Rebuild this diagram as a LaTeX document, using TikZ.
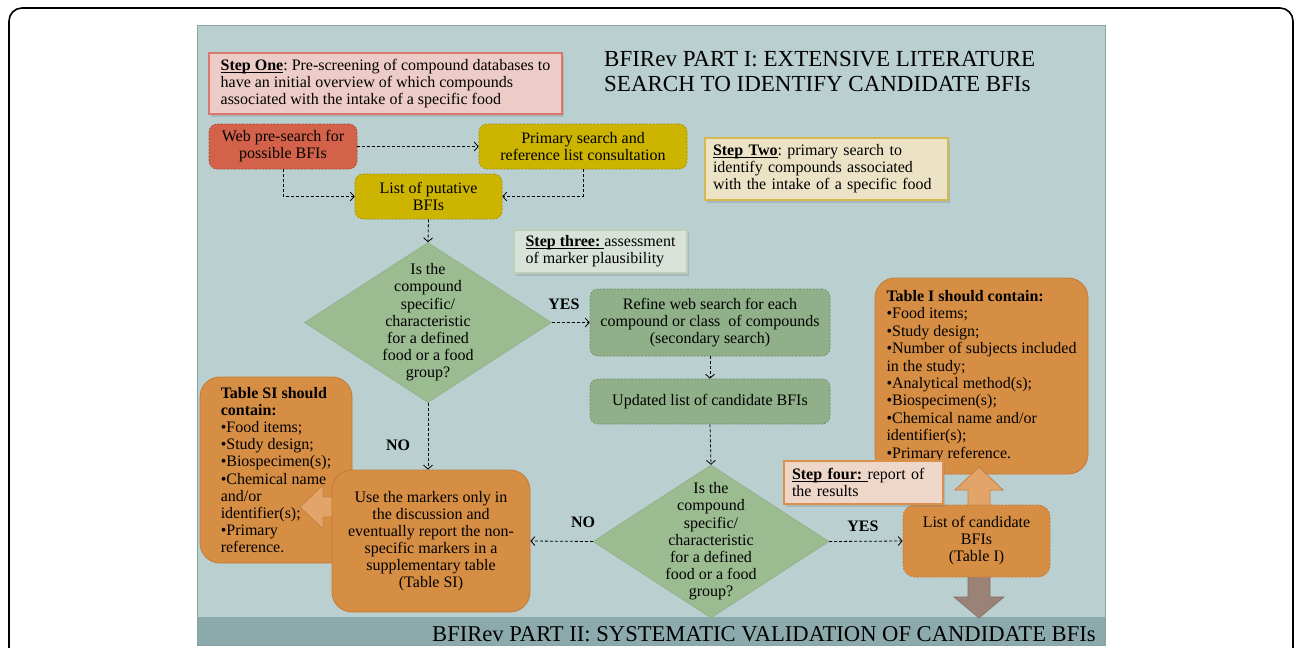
\documentclass[tikz,border=0pt]{standalone}
\usepackage{fontspec}
\setmainfont{Liberation Serif}
\usepackage{xcolor}
\usepackage{tikz}
\usetikzlibrary{calc, shapes.geometric, arrows.meta, shadows}
\frenchspacing
\newcommand{\stepul}[1]{\setbox0=\hbox{#1}\leavevmode\rlap{\vrule width\wd0 height -1.4pt depth 2.4pt}\box0}

\definecolor{panelbg}{RGB}{186,207,207}
\definecolor{panelline}{RGB}{135,165,165}
\definecolor{bannerbg}{RGB}{140,170,172}
\definecolor{onefill}{RGB}{237,203,199}
\definecolor{oneline}{RGB}{217,120,108}
\definecolor{webfill}{RGB}{212,98,74}
\definecolor{webline}{RGB}{165,72,52}
\definecolor{olivefill}{RGB}{204,180,0}
\definecolor{oliveline}{RGB}{160,140,0}
\definecolor{twofill}{RGB}{236,227,198}
\definecolor{twoline}{RGB}{212,185,80}
\definecolor{threefill}{RGB}{216,226,216}
\definecolor{threeline}{RGB}{188,206,188}
\definecolor{diafill}{RGB}{155,187,145}
\definecolor{greenfill}{RGB}{143,176,136}
\definecolor{greenline}{RGB}{105,138,100}
\definecolor{orangefill}{RGB}{214,142,68}
\definecolor{orangeline}{RGB}{196,122,50}
\definecolor{fourfill}{RGB}{238,214,200}
\definecolor{fourline}{RGB}{217,145,75}
\definecolor{lightarrow}{RGB}{226,164,104}
\definecolor{lightarrowline}{RGB}{196,128,66}
\definecolor{downarrow}{RGB}{155,130,118}

\tikzset{
	txt/.style = {font=\fontsize{16}{17}\selectfont, inner sep=0pt},
	titletext/.style = {font=\fontsize{23}{25}\selectfont, inner sep=0pt, align=left},
	stepbox/.style = {txt, draw, line width=1.2pt, align=left, inner xsep=8pt, inner ysep=4pt,
		drop shadow={shadow xshift=1.5pt, shadow yshift=-2.5pt, opacity=0.3}},
	flowbox/.style = {txt, draw, dash pattern=on 2pt off 1.5pt, line width=0.6pt, rounded corners=8pt, align=center},
	tablebox/.style = {txt, fill=orangefill, draw=orangeline, line width=0.8pt, rounded corners=20pt},
	decision/.style = {diamond, fill=diafill, draw=diafill!90!black, line width=0.4pt, inner sep=0pt},
	dectext/.style = {txt, align=center, font=\fontsize{16}{17.2}\selectfont},
	answer/.style = {txt, font=\fontsize{16}{17}\selectfont\bfseries},
	flow/.style = {line width=0.8pt, dash pattern=on 3pt off 2pt, -{Straight Barb[length=4pt, width=9pt]}},
	blocklight/.style = {fill=lightarrow, draw=lightarrowline, line width=0.8pt},
	blockdown/.style = {fill=downarrow, draw=downarrow!85!black, line width=0.6pt},
}

\begin{document}
\begin{tikzpicture}[x=1pt, y=-1pt]
	\useasboundingbox (0,0) rectangle (1296,648);
	\draw [line width=1.6pt, rounded corners=13pt] (9,648) -- (9,8) -- (1293,8) -- (1293,648);

	\begin{scope}
		\fill [panelbg] (197,25) rectangle (1105,645);
		\fill [bannerbg] (197,617) rectangle (1105,645);
		\draw [panelline, line width=0.8pt] (197,25) rectangle (1105,645);
	\end{scope}

	\node [titletext, anchor=north west] (titleone) at (604,51) {BFIRev PART I: EXTENSIVE LITERATURE\\SEARCH TO IDENTIFY CANDIDATE BFIs};
	\node [titletext, font=\fontsize{22.6}{25}\selectfont, anchor=base west] (titletwo) at (432,641) {BFIRev PART II: SYSTEMATIC VALIDATION OF CANDIDATE BFIs};

	% step boxes
	\node [stepbox, fill=onefill, draw=oneline, minimum width=353pt, minimum height=61pt] (stepone) at (385.5,83.5)
		{\stepul{\textbf{Step One}}: Pre-screening of compound databases to\\have an initial overview of which compounds\\associated with the intake of a specific food};
	\node [stepbox, fill=twofill, draw=twoline, text width=227pt, minimum height=62pt] (steptwo) at (826.5,169)
		{\stepul{\textbf{Step Two}}: primary search to\\identify compounds associated\\with the intake of a specific food};
	\node [stepbox, fill=threefill, draw=threeline, minimum width=173pt, minimum height=43pt] (stepthree) at (600.5,251.5)
		{\stepul{\textbf{Step three: }}assessment\\of marker plausibility};

	% first search
	\node [flowbox, fill=webfill, draw=webline, minimum width=148pt, minimum height=45pt] (websearch) at (283,146.5) {Web pre-search for\\possible BFIs};
	\node [flowbox, fill=olivefill, draw=oliveline, minimum width=208pt, minimum height=45pt] (primary) at (583,146.5) {Primary search and\\reference list consultation};
	\node [flowbox, fill=olivefill, draw=oliveline, minimum width=147pt, minimum height=45pt] (putative) at (428.5,196.5) {List of putative\\BFIs};

	\draw [flow] (websearch.east) -- (primary.west);
	\draw [flow] (websearch.south) |- (putative.west);
	\draw [flow] (primary.south) |- (putative.east);

	% first check
	\node [decision, minimum width=247pt, minimum height=160pt] (decone) at (428,322.5) {};
	\node [dectext] (deconetext) at (decone.center) {Is the\\compound\\specific/\\characteristic\\for a defined\\food or a food\\group?};
	\draw [flow] (putative.south) -- (decone.north);

	\node [flowbox, fill=greenfill, draw=greenline, minimum width=240pt, minimum height=67pt] (refine) at (710,322.5) {Refine web search for each\\compound or class~~of compounds\\(secondary search)};
	\node [flowbox, fill=greenfill, draw=greenline, minimum width=240pt, minimum height=45pt] (updated) at (710,401.5) {Updated list of candidate BFIs};
	\node [answer] (yesone) at (564,304) {YES};
	\draw [flow] (decone.east) -- (refine.west);
	\draw [flow] (refine.south) -- (updated.north);

	% second check
	\node [decision, minimum width=236pt, minimum height=153pt] (dectwo) at (711,541.5) {};
	\node [dectext] (dectwotext) at (dectwo.center) {Is the\\compound\\specific/\\characteristic\\for a defined\\food or a food\\group?};
	\draw [flow] (updated.south) -- (dectwo.north);

	% tables
	\node [tablebox, minimum width=213pt, minimum height=196pt, align=left, font=\fontsize{16}{17.4}\selectfont] (tableone) at (981.5,376)
		{\textbf{Table I should contain:}\\\textbullet Food items;\\\textbullet Study design;\\\textbullet Number of subjects included\\in the study;\\\textbullet Analytical method(s);\\\textbullet Biospecimen(s);\\\textbullet Chemical name and/or\\identifier(s);\\\textbullet Primary reference.};
	\node [tablebox, minimum width=152pt, minimum height=186pt, align=left, font=\fontsize{16}{17.2}\selectfont] (tablesi) at (276,470)
		{\textbf{Table SI should}\\\textbf{contain:}\\\textbullet Food items;\\\textbullet Study design;\\\textbullet Biospecimen(s);\\\textbullet Chemical name\\and/or\\identifier(s);\\\textbullet Primary\\reference.};

	\draw [blocklight] (352,497) -- (323,497) -- (323,485) -- (300,507) -- (323,529) -- (323,517) -- (352,517) -- cycle;
	\node [tablebox, minimum width=198pt, minimum height=142pt, align=center] (usemarkers) at (431,541)
		{Use the markers only in\\the discussion and\\eventually report the non-\\specific markers in a\\supplementary table\\(Table SI)};

	\def\ax{979}
	\draw [blocklight] (\ax-11,512) -- (\ax-11,490) -- (\ax-24,490) -- (\ax,467) -- (\ax+24,490) -- (\ax+11,490) -- (\ax+11,512) -- cycle;
	\draw [blockdown] (\ax-11,572) -- (\ax-11,597) -- (\ax-25,597) -- (\ax,618) -- (\ax+25,597) -- (\ax+11,597) -- (\ax+11,572) -- cycle;
	\node [tablebox, rounded corners=12pt, dash pattern=on 2pt off 1.5pt, minimum width=147pt, minimum height=72pt, align=center] (candidate) at (976.5,541)
		{List of candidate\\BFIs\\(Table I)};

	\node [stepbox, fill=fourfill, draw=fourline, text width=143pt, minimum height=43pt] (stepfour) at (863.5,482.5)
		{\stepul{\textbf{Step four: }}report of\\the results};

	\node [answer] (noone) at (398,445) {NO};
	\node [answer] (notwo) at (583,522) {NO};
	\node [answer] (yestwo) at (863,526) {YES};
	\draw [flow] (decone.south) -- (decone.south |- usemarkers.north);
	\draw [flow] (dectwo.west) -- (usemarkers.east);
	\draw [flow] (dectwo.east) -- (candidate.west);
\end{tikzpicture}
\end{document}
